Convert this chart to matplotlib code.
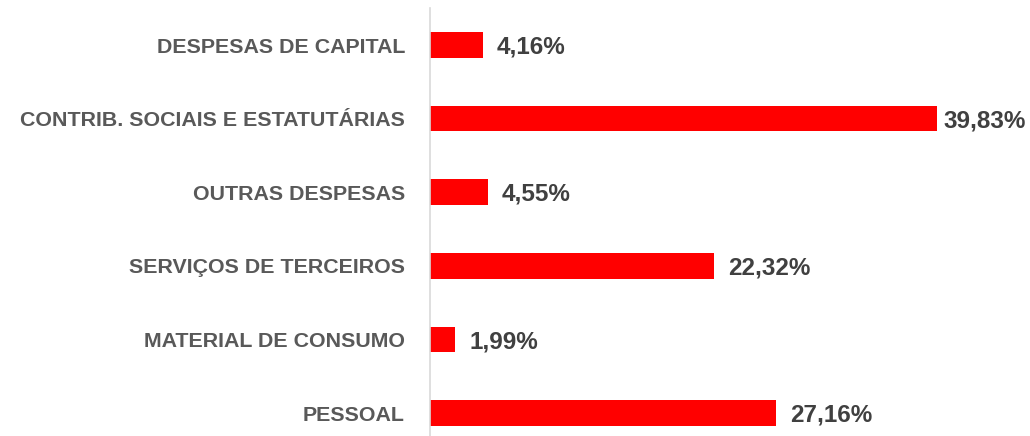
import numpy as np
import matplotlib.pyplot as plt

plt.rcParams['font.family'] = ['Liberation Sans', 'DejaVu Sans']

# -------------------------
# Data (bottom to top)
# -------------------------
categorias = ['PESSOAL', 'MATERIAL DE CONSUMO', 'SERVIÇOS DE TERCEIROS',
              'OUTRAS DESPESAS', 'CONTRIB. SOCIAIS E ESTATUTÁRIAS', 'DESPESAS DE CAPITAL']
valores = [27.16, 1.99, 22.32, 4.55, 39.83, 4.16]
rotulos = ['27,16%', '1,99%', '22,32%', '4,55%', '39,83%', '4,16%']

# -------------------------
# Plot
# -------------------------
fig = plt.figure(figsize=(10.3, 4.36), dpi=100)
ax = fig.add_axes([430 / 1030, 0, 600 / 1030, 428 / 436])

xmax = 47.1
y = np.arange(len(categorias))
ax.barh(y, valores, height=0.35, color='#ff0000')

for yi, v, r in zip(y, valores, rotulos):
    # labels that would run off the right edge get pulled back in
    if v + 8 > xmax:
        ax.text(xmax - 0.35, yi - 0.03, r, va='center', ha='right',
                fontsize=17.5, fontweight='bold', color='#404040')
    else:
        ax.text(v + 1.1, yi - 0.03, r, va='center', ha='left',
                fontsize=17.5, fontweight='bold', color='#404040')

ax.set_yticks(y)
ax.set_yticklabels(categorias, fontsize=15.4, fontweight='bold', color='#595959')
ax.tick_params(axis='y', length=0, pad=18)
ax.set_xticks([])
ax.set_xlim(0, xmax)
ax.set_ylim(-0.3125, 5.503)

for s in ['top', 'right', 'bottom']:
    ax.spines[s].set_visible(False)
ax.spines['left'].set_color('#d9d9d9')
ax.spines['left'].set_linewidth(1.2)

fig.savefig('out.png', dpi=100)
